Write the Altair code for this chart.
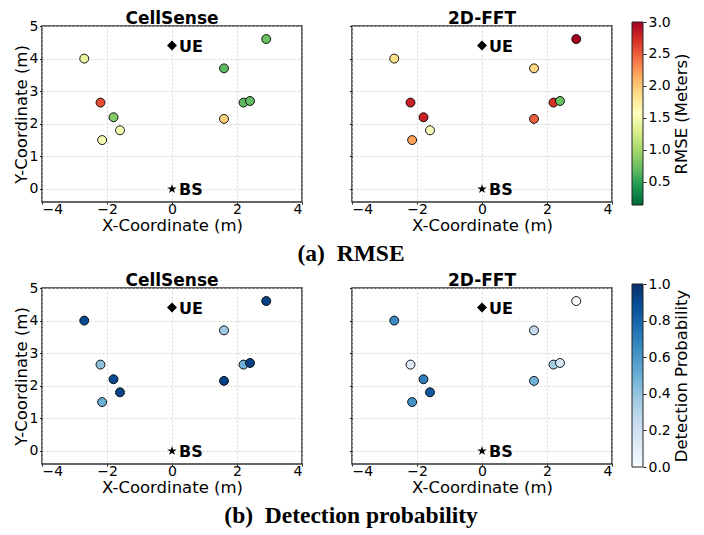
import altair as alt
import pandas as pd

# ---------------- data ----------------
x_pos = [-2.7, -2.2, -1.8, -1.6, -2.15, 1.6, 2.9, 2.2, 2.4, 1.6]
y_pos = [4.0, 2.65, 2.2, 1.8, 1.5, 3.7, 4.6, 2.65, 2.7, 2.15]

rmse_cellsense = [1.40, 2.57, 0.86, 1.51, 1.50, 0.68, 0.74, 0.68, 0.71, 1.94]
rmse_fft = [1.86, 2.80, 2.80, 1.54, 2.20, 1.91, 3.00, 2.71, 0.74, 2.49]
prob_cellsense = [0.90, 0.42, 0.90, 0.92, 0.50, 0.37, 0.93, 0.50, 0.93, 0.93]
prob_fft = [0.65, 0.13, 0.70, 0.85, 0.62, 0.25, 0.00, 0.36, 0.18, 0.48]

methods = ["CellSense", "2D-FFT"]
landmark_names = ["UE", "BS"]
landmark_x = [0.0, 0.0]
landmark_y = [4.4, 0.0]

x_ticks = [-4, -2, 0, 2, 4]
y_ticks = [0, 1, 2, 3, 4, 5]
rmse_ticks = [0.5, 1.0, 1.5, 2.0, 2.5, 3.0]
prob_ticks = [0.0, 0.2, 0.4, 0.6, 0.8, 1.0]
rmse_range = [0.14, 3.0]
prob_range = [0.0, 1.0]

captions = ["(a)\u00a0\u00a0RMSE", "(b)\u00a0\u00a0Detection probability"]
cbar_titles = ["RMSE (Meters)", "Detection Probability"]

# colormaps (matplotlib RdYlGn reversed, Blues)
RDYLGN_R = ["#006837", "#1a9850", "#66bd63", "#a6d96a", "#d9ef8b", "#ffffbf",
            "#fee08b", "#fdae61", "#f46d43", "#d73027", "#a50026"]
BLUES = ["#f7fbff", "#deebf7", "#c6dbef", "#9ecae1", "#6baed6", "#4292c6",
         "#2171b5", "#08519c", "#08306b"]

STAR = ("M0,-1 L0.223,-0.307 L0.951,-0.309 L0.361,0.117 L0.588,0.809 "
        "L0,0.38 L-0.588,0.809 L-0.361,0.117 L-0.951,-0.309 L-0.223,-0.307 Z")

FONT = "DejaVu Sans"
PW, PH = 260, 176


def panel(values, method, colors, vrange, show_y):
    df = pd.DataFrame({"x": x_pos, "y": y_pos, "v": values})
    n = len(colors)
    dom = [vrange[0] + i * (vrange[1] - vrange[0]) / (n - 1) for i in range(n)]
    xs = alt.Scale(domain=[-4, 4], nice=False, zero=False)
    ys = alt.Scale(domain=[-0.4, 5], nice=False, zero=False)
    xax = alt.Axis(values=x_ticks, format="d", title="X-Coordinate (m)")
    if show_y:
        yax = alt.Axis(values=y_ticks, format="d", title="Y-Coordinate (m)")
    else:
        yax = alt.Axis(values=y_ticks, format="d", title=None, labels=False)
    xenc = alt.X("x:Q", scale=xs, axis=xax)
    yenc = alt.Y("y:Q", scale=ys, axis=yax)

    pts = alt.Chart(df).mark_circle(size=80, stroke="black", strokeWidth=0.9,
                                    opacity=1).encode(
        x=xenc, y=yenc,
        color=alt.Color("v:Q", scale=alt.Scale(domain=dom, range=colors,
                                               interpolate="rgb", clamp=True),
                        legend=None),
    )
    lm = pd.DataFrame({"x": landmark_x, "y": landmark_y, "name": landmark_names})
    marks = alt.Chart(lm).mark_point(filled=True, color="black", size=100,
                                     opacity=1).encode(
        x=xenc, y=yenc,
        shape=alt.Shape("name:N", scale=alt.Scale(domain=landmark_names,
                                                  range=["diamond", STAR]),
                        legend=None),
    )
    text = alt.Chart(lm).mark_text(align="left", baseline="middle", dx=7, dy=1,
                                   fontSize=16, fontWeight="bold", font=FONT,
                                   color="black").encode(
        x=xenc, y=yenc, text="name:N")
    # the left panel's top tick label ("5") pushes its title up; compensate
    toff = -9 if show_y else -2
    return alt.layer(pts, marks, text).properties(
        width=PW, height=PH,
        title=alt.TitleParams(method, font=FONT, fontSize=17, fontWeight="bold",
                              anchor="middle", offset=toff, color="black"),
    )


def colorbar(colors, vrange, ticks, title):
    df = pd.DataFrame({"lo": [vrange[0]], "hi": [vrange[1]]})
    n = len(colors)
    stops = [alt.GradientStop(offset=i / (n - 1), color=c) for i, c in enumerate(colors)]
    grad = alt.LinearGradient(gradient="linear", stops=stops, x1=0, x2=0, y1=1, y2=0)
    return alt.Chart(df).mark_rect(fill=grad, stroke="#222222", strokeWidth=1).encode(
        x=alt.value(0), x2=alt.value(11),
        y=alt.Y("lo:Q", scale=alt.Scale(domain=vrange, nice=False, zero=False,
                                        range=[PH + 3, -4]),
                axis=alt.Axis(orient="right", values=ticks, format=".1f", title=title,
                              grid=False, titleAngle=270, titleBaseline="top",
                              titleFontSize=16.5, tickSize=3, labelPadding=2,
                              titlePadding=3)),
        y2="hi:Q",
    ).properties(width=11, height=PH, view=alt.ViewBackground(strokeWidth=0))


rows = []
for k, (vals, colors, vrange, ticks) in enumerate([
        ((rmse_cellsense, rmse_fft), RDYLGN_R, rmse_range, rmse_ticks),
        ((prob_cellsense, prob_fft), BLUES, prob_range, prob_ticks)]):
    left = panel(vals[0], methods[0], colors, vrange, True)
    right = panel(vals[1], methods[1], colors, vrange, False)
    pair = alt.hconcat(left, right, spacing=44)
    cb = colorbar(colors, vrange, ticks, cbar_titles[k])
    row = alt.hconcat(pair, cb, spacing=17).properties(
        title=alt.TitleParams(captions[k], orient="bottom", anchor="middle",
                              font="Liberation Serif", fontSize=23.5,
                              fontWeight="bold", color="black", offset=8))
    rows.append(row)

chart = alt.vconcat(*rows, spacing=4).resolve_scale(color="independent").properties(
    padding={"left": 4, "top": 0, "right": 0, "bottom": 0}
).configure_axis(
    labelFont=FONT, labelFontSize=14, labelColor="black",
    titleFont=FONT, titleFontSize=16.5, titleFontWeight="normal", titleColor="black",
    tickColor="#222222", tickWidth=1, domain=False,
    grid=True, gridColor="#cccccc", gridDash=[2, 2], gridWidth=0.8,
).configure_axisX(
    tickSize=2, labelPadding=-1.5, titlePadding=0.5,
).configure_axisY(
    tickSize=2.5, labelPadding=1.5, titlePadding=0,
).configure_view(stroke="#333333", strokeWidth=1.5)

chart.save("out.html", embed_options={"renderer": "svg", "actions": False})
